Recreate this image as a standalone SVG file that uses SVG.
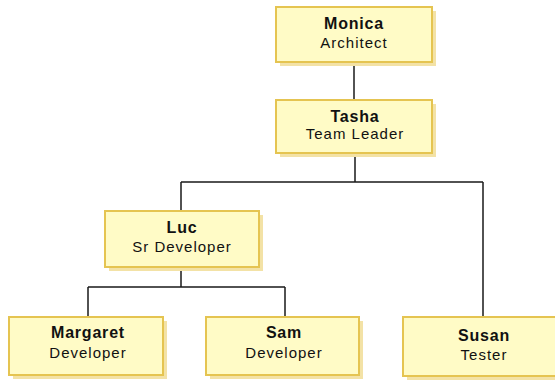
<svg xmlns="http://www.w3.org/2000/svg" width="555" height="381" viewBox="0 0 555 381">
  <style>
    .shadow { fill: #f3e2a6; }
    .box { fill: #fffbc6; stroke: #e5c451; stroke-width: 2; }
    .name { font-family: "Liberation Sans", Arial, sans-serif; font-size: 16px; font-weight: bold; fill: #111; text-anchor: middle; letter-spacing: 0.8px; }
    .role { font-family: "Liberation Sans", Arial, sans-serif; font-size: 15px; fill: #111; text-anchor: middle; letter-spacing: 1px; }
    .link { fill: none; stroke: #1a1a1a; stroke-width: 1.5; }
  </style>

  <g id="connectors">
    <path class="link" d="M354,62 V100"/>
    <path class="link" d="M355,153 V182 M181,182 H483 M181,182 V211 M483,182 V317"/>
    <path class="link" d="M181,267 V287 M88,287 H285 M88,287 V317 M285,287 V317"/>
  </g>

  <g id="monica">
    <rect class="shadow" x="280" y="11" width="156" height="55"/>
    <rect class="box" x="276" y="7" width="156" height="55"/>
    <text class="name" x="354" y="29">Monica</text>
    <text class="role" x="354" y="48">Architect</text>
  </g>

  <g id="tasha">
    <rect class="shadow" x="280" y="104" width="156" height="53"/>
    <rect class="box" x="276" y="100" width="156" height="53"/>
    <text class="name" x="355" y="122">Tasha</text>
    <text class="role" x="355" y="139">Team Leader</text>
  </g>

  <g id="luc">
    <rect class="shadow" x="109" y="215" width="154" height="56"/>
    <rect class="box" x="105" y="211" width="154" height="56"/>
    <text class="name" x="182" y="233">Luc</text>
    <text class="role" x="182" y="252">Sr Developer</text>
  </g>

  <g id="margaret">
    <rect class="shadow" x="13" y="321" width="154" height="58"/>
    <rect class="box" x="9" y="317" width="154" height="58"/>
    <text class="name" x="88" y="338">Margaret</text>
    <text class="role" x="88" y="358">Developer</text>
  </g>

  <g id="sam">
    <rect class="shadow" x="210" y="321" width="153" height="58"/>
    <rect class="box" x="206" y="317" width="153" height="58"/>
    <text class="name" x="284" y="338">Sam</text>
    <text class="role" x="284" y="358">Developer</text>
  </g>

  <g id="susan">
    <rect class="shadow" x="407" y="321" width="154" height="59"/>
    <rect class="box" x="403" y="317" width="154" height="59"/>
    <text class="name" x="484" y="341">Susan</text>
    <text class="role" x="484" y="360">Tester</text>
  </g>
</svg>
